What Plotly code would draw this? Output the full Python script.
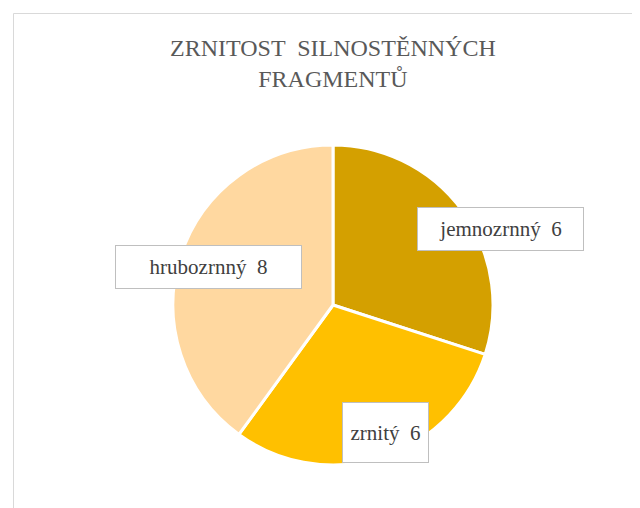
import plotly.graph_objects as go

W, H = 640, 508
OFF = 8  # page body margin offset

categories = ["jemnozrnný", "zrnitý", "hrubozrnný"]
values = [6, 6, 8]
colors = ["#D4A000", "#FFC000", "#FFD8A0"]
title_text = "ZRNITOST  SILNOSTĚNNÝCH<br>FRAGMENTŮ"

# label box centres (window px) and sizes (px)
label_pos = [(500.5, 229), (385.5, 432.5), (208.5, 267)]
label_size = [(165, 42), (85, 59), (185, 42)]

cx, cy, r = 333 - OFF, 305 - OFF, 160


def px(x):
    return (x - OFF) / W


def py(y):
    return 1 - (y - OFF) / H


fig = go.Figure()
fig.add_trace(go.Pie(
    labels=categories,
    values=values,
    sort=False,
    direction="clockwise",
    rotation=0,
    marker=dict(colors=colors, line=dict(color="white", width=3)),
    textinfo="none",
    hoverinfo="label+value",
    showlegend=False,
    domain=dict(x=[(cx - r) / W, (cx + r) / W], y=[(H - cy - r) / H, (H - cy + r) / H]),
))

annotations = [dict(
    text=title_text, x=px(333), y=py(33), xref="paper", yref="paper",
    xanchor="center", yanchor="top", showarrow=False, align="center",
    font=dict(family="Liberation Serif", size=24, color="#595959"),
)]
for cat, val, (lx, ly), (bw, bh) in zip(categories, values, label_pos, label_size):
    annotations.append(dict(
        text=f"{cat}  {val}", x=px(lx), y=py(ly), xref="paper", yref="paper",
        xanchor="center", yanchor="middle", showarrow=False,
        width=bw, height=bh, borderpad=0, valign="middle",
        bgcolor="white", bordercolor="#BFBFBF", borderwidth=1,
        font=dict(family="Liberation Serif", size=21, color="#404040"),
    ))

shapes = [
    dict(type="line", xref="paper", yref="paper", x0=px(13.5), x1=1.0, y0=py(13.5), y1=py(13.5),
         line=dict(color="#D9D9D9", width=1)),
    dict(type="line", xref="paper", yref="paper", x0=px(13.5), x1=px(13.5), y0=0, y1=py(13.5),
         line=dict(color="#D9D9D9", width=1)),
]

fig.update_layout(
    width=W, height=H,
    margin=dict(l=0, r=0, t=0, b=0),
    paper_bgcolor="white", plot_bgcolor="white",
    annotations=annotations, shapes=shapes,
)

fig.write_html("out.html")
